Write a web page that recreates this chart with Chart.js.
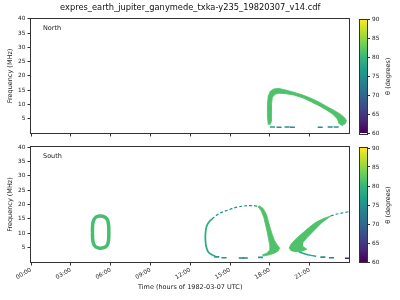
<!DOCTYPE html>
<html><head><meta charset="utf-8">
<script src="https://cdn.jsdelivr.net/npm/chart.js@4.4.1/dist/chart.umd.min.js"></script>
<style>
html,body{margin:0;padding:0;background:#fff;width:400px;height:300px;overflow:hidden}
.c{position:absolute}
</style></head><body>
<div class="c" style="left:0;top:0;width:355px;height:140px"><canvas id="north"></canvas></div>
<div class="c" style="left:0;top:140px;width:355px;height:160px"><canvas id="south"></canvas></div>
<div class="c" style="left:352px;top:0;width:48px;height:140px"><canvas id="cbN"></canvas></div>
<div class="c" style="left:352px;top:140px;width:48px;height:160px"><canvas id="cbS"></canvas></div>
<script>
// ---------------- data ----------------
const titleText = 'expres_earth_jupiter_ganymede_txka-y235_19820307_v14.cdf';
const hourTicks = [0, 3, 6, 9, 12, 15, 18, 21];
const freqTicks = [5, 10, 15, 20, 25, 30, 35, 40];
const thetaTicks = [60, 65, 70, 75, 80, 85, 90];
const thetaRange = [60, 90];

// North: emission band (outer edge, then inner edge back)
const northBandT = [17.88,17.82,17.82,17.88,18.05,18.35,18.7,19.2,19.8,20.5,21.1,21.7,22.3,22.9,23.35,23.65,23.78,23.7,23.45,
                    23.2,23.1,22.75,22.3,21.7,21.1,20.5,19.8,19.2,18.7,18.4,18.2,18.12,18.1,18.1,18.05];
const northBandF = [2.9,6.0,10.0,13.0,14.7,15.5,15.6,15.1,14.3,13.3,12.2,10.9,9.3,7.8,6.5,5.3,4.3,3.3,2.6,
                    3.4,4.9,6.6,8.0,9.6,11.0,12.3,13.3,13.8,13.9,13.6,12.5,10.0,6.5,4.0,3.0];
const northBandTheta = 81.5;
const northDashT = [18.2, 18.7, 19.3, 19.7, 21.8, 22.55, 23.0];
const northDashF = [2.1, 2.0, 2.1, 2.0, 2.0, 2.1, 2.1];
const northDashTheta = [77, 75, 75, 75, 75, 74, 76];

// South: ring near 05:00
const ringT = [4.63,4.65,4.75,4.92,5.15,5.4,5.62,5.78,5.85,5.87,5.85,5.78,5.6,5.35,5.1,4.88,4.72,4.65,4.63];
const ringF = [10.3,13.2,14.8,15.7,16.0,15.9,15.4,14.5,12.8,10.3,7.8,6.2,5.2,4.85,4.9,5.3,6.3,7.8,10.3];
const ringTheta = 81;

// South: loop 13h-19h
const loopTopT = [13.65,13.9,14.3,14.8,15.3,15.8,16.3,16.8,17.2];
const loopTopF = [15.0,16.0,17.1,18.0,18.8,19.3,19.6,19.6,19.3];
const loopTopTheta = 75;
const loopLeftT = [13.65,13.4,13.22,13.15,13.15,13.2,13.35,13.6,13.9];
const loopLeftF = [15.0,13.8,12.2,10.0,7.5,5.5,3.6,2.6,2.0];
const loopLeftTheta = 79;
const loopBandT = [17.2,17.5,17.75,17.9,18.05,18.2,18.35,18.55,18.75,18.6,18.3,17.9,17.5,
                   17.45,17.8,18.0,18.0,17.9,17.8,17.68,17.55,17.35,17.1];
const loopBandF = [19.6,18.6,16.5,14.0,11.5,9.4,7.5,6.0,4.8,3.7,3.0,2.4,2.1,
                   2.5,3.1,4.3,5.9,8.0,10.5,12.9,15.5,17.8,19.3];
const loopBandTheta = 81.5;
const loopDashT = [14.0, 14.55, 15.85, 16.15, 17.3];
const loopDashF = [1.8, 1.5, 1.4, 1.4, 1.6];
const loopDashTheta = [76, 75, 73, 73, 76];

// South: wedge 19.5h-24h
const wedgeT = [19.45,19.6,19.85,20.2,20.6,21.0,21.4,21.8,22.2,22.6,
                22.3,21.9,21.3,20.8,20.5,20.45,20.8,20.3,19.85,19.55];
const wedgeF = [4.8,6.2,7.5,9.0,10.6,12.2,13.6,14.6,15.4,16.0,
                15.0,13.6,10.8,8.4,6.8,5.6,4.4,3.6,3.6,4.1];
const wedgeTheta = 81.5;
const wedgeUpT = [22.6, 23.0, 23.4, 23.95];
const wedgeUpF = [16.0, 16.6, 17.0, 17.5];
const wedgeUpTheta = 75;
const wedgeLowT = [20.2, 20.6, 21.1, 21.5];
const wedgeLowF = [3.5, 2.9, 2.3, 2.0];
const wedgeLowTheta = 78;
const wedgeDashT = [22.0, 22.65, 23.85];
const wedgeDashF = [1.7, 1.5, 1.3];
const wedgeDashTheta = [75, 73, 63];

// ---------------- helpers ----------------
const VIRIDIS = ['#440154','#482878','#3e4989','#31688e','#26828e','#1f9e89','#35b779','#6ece58','#b5de2b','#fde725'];
function hex2rgb(h){return [1,3,5].map(i=>parseInt(h.substr(i,2),16));}
function viridis(theta){
  let u = (theta - thetaRange[0]) / (thetaRange[1] - thetaRange[0]);
  u = Math.max(0, Math.min(1, u));
  const n = VIRIDIS.length - 1;
  const i = Math.min(n - 1, Math.floor(u * n));
  const f = u * n - i;
  const a = hex2rgb(VIRIDIS[i]), b = hex2rgb(VIRIDIS[i+1]);
  const c = a.map((v,k)=>Math.round(v + (b[k]-v)*f));
  return 'rgb(' + c.join(',') + ')';
}
function pts(T, F){ return T.map((t,i)=>({x:t, y:F[i]})); }
function band(T, F, theta){
  const c = viridis(theta);
  return {data: pts(T,F), showLine: true, fill: 'shape', backgroundColor: c, borderColor: c,
          borderWidth: 0.8, pointRadius: 0, tension: 0};
}
function curve(T, F, theta, w, dash){
  const c = viridis(theta);
  return {data: pts(T,F), showLine: true, fill: false, borderColor: c, borderWidth: w,
          borderDash: dash || [], pointRadius: 0, tension: 0.3};
}
function dashes(T, F, TH){
  return {data: pts(T,F), showLine: false, pointStyle: 'line', pointRadius: 2.5,
          pointBorderWidth: 1.6, pointBorderColor: TH.map(viridis), pointBackgroundColor: TH.map(viridis)};
}
function fmtHour(v){ return String(v).padStart(2,'0') + ':00'; }

Chart.defaults.font.family = "'DejaVu Sans', sans-serif";
Chart.defaults.color = '#222';

const framePlugin = {
  id: 'frame',
  afterDraw(chart){
    const {ctx, chartArea: a} = chart;
    ctx.save();
    ctx.strokeStyle = '#333'; ctx.lineWidth = 1;
    ctx.strokeRect(Math.round(a.left) - 0.5, Math.round(a.top) - 0.5,
                   Math.round(a.right - a.left) + 1, Math.round(a.bottom - a.top) + 1);
    const pl = chart.options.plugins.frame;
    if (pl && pl.label) {
      ctx.fillStyle = '#222';
      ctx.font = "6.5px 'DejaVu Sans', sans-serif";
      ctx.textBaseline = 'middle';
      ctx.fillText(pl.label, a.left + 12, a.top + 9.5);
    }
    if (pl && pl.sideTitle) {
      ctx.translate(a.right + 21, (a.top + a.bottom) / 2);
      ctx.rotate(-Math.PI / 2);
      ctx.fillStyle = '#222';
      ctx.font = "6.5px 'DejaVu Sans', sans-serif";
      ctx.textAlign = 'center'; ctx.textBaseline = 'middle';
      ctx.fillText(pl.sideTitle, 0, 0);
    }
    ctx.restore();
  }
};

function mainOptions(isBottom, label){
  return {
    responsive: true, maintainAspectRatio: false, animation: false, devicePixelRatio: 1,
    layout: {padding: isBottom ? {top:7, right:5, bottom:6, left:0} : {top:0, right:5, bottom:0, left:0}},
    plugins: {
      legend: {display: false}, tooltip: {enabled: false},
      title: isBottom ? {display: false} : {display: true, text: titleText, fullSize: false,
             font: {size: 8.3, weight: 'normal'}, color: '#111', padding: {top: 3, bottom: 6}},
      frame: {label: label}
    },
    scales: {
      x: {type: 'linear', min: 0, max: 24,
          afterBuildTicks: s => { s.ticks = hourTicks.map(v => ({value: v})); },
          afterFit: s => { s.height = isBottom ? 32 : 7; },
          ticks: {display: isBottom, autoSkip: false, maxRotation: 30, minRotation: 30,
                  font: {size: 5.8}, padding: 1, callback: v => fmtHour(v)},
          grid: {drawOnChartArea: false, drawTicks: true, tickLength: 3.5, tickColor: '#333'},
          border: {display: false},
          title: {display: isBottom, text: 'Time (hours of 1982-03-07 UTC)', font: {size: 6.5},
                  padding: {top: 0, bottom: 2.5}}
      },
      y: {min: 0, max: 40,
          afterBuildTicks: s => { s.ticks = freqTicks.map(v => ({value: v})); },
          afterFit: s => { s.width = 31; },
          ticks: {font: {size: 5.8}, padding: 2},
          grid: {drawOnChartArea: false, drawTicks: true, tickLength: 3.5, tickColor: '#333'},
          border: {display: false},
          title: {display: true, text: 'Frequency (MHz)', font: {size: 6.5}, padding: {top: 6.5, bottom: 0}}
      }
    }
  };
}

new Chart(document.getElementById('north'), {
  type: 'scatter',
  data: {datasets: [
    band(northBandT, northBandF, northBandTheta),
    dashes(northDashT, northDashF, northDashTheta)
  ]},
  options: mainOptions(false, 'North'),
  plugins: [framePlugin]
});

new Chart(document.getElementById('south'), {
  type: 'scatter',
  data: {datasets: [
    curve(ringT, ringF, ringTheta, 3.5),
    band(loopBandT, loopBandF, loopBandTheta),
    curve(loopTopT, loopTopF, loopTopTheta, 1.2, [3, 2]),
    curve(loopLeftT, loopLeftF, loopLeftTheta, 1.8),
    dashes(loopDashT, loopDashF, loopDashTheta),
    band(wedgeT, wedgeF, wedgeTheta),
    curve(wedgeUpT, wedgeUpF, wedgeUpTheta, 1.2, [3, 2]),
    curve(wedgeLowT, wedgeLowF, wedgeLowTheta, 1.5),
    dashes(wedgeDashT, wedgeDashF, wedgeDashTheta)
  ]},
  options: mainOptions(true, 'South'),
  plugins: [framePlugin]
});

function cbGradient(ctx){
  const chart = ctx.chart, a = chart.chartArea;
  if (!a) return viridis(75);
  const g = chart.ctx.createLinearGradient(0, a.bottom, 0, a.top);
  VIRIDIS.forEach((c, i) => g.addColorStop(i / (VIRIDIS.length - 1), c));
  return g;
}
function colorbar(id, padTop, padBottom){
  new Chart(document.getElementById(id), {
    type: 'bar',
    data: {labels: ['θ'], datasets: [{data: [thetaRange], backgroundColor: cbGradient,
           borderWidth: 0, barPercentage: 1, categoryPercentage: 1}]},
    options: {
      responsive: true, maintainAspectRatio: false, animation: false, devicePixelRatio: 1,
      layout: {padding: {left: 8, top: padTop, bottom: padBottom, right: 0}},
      plugins: {legend: {display: false}, tooltip: {enabled: false}, frame: {sideTitle: 'θ (degrees)'}},
      scales: {
        x: {display: false},
        y: {position: 'right', min: thetaRange[0], max: thetaRange[1],
            afterBuildTicks: s => { s.ticks = thetaTicks.map(v => ({value: v})); },
            afterFit: s => { s.width = 33; },
            ticks: {font: {size: 5.8}, padding: 2},
            grid: {drawOnChartArea: false, drawTicks: true, tickLength: 3, tickColor: '#333'},
            border: {display: false}}
      }
    },
    plugins: [framePlugin]
  });
}
colorbar('cbN', 19.5, 7);
colorbar('cbS', 8, 38);
</script>
</body></html>
